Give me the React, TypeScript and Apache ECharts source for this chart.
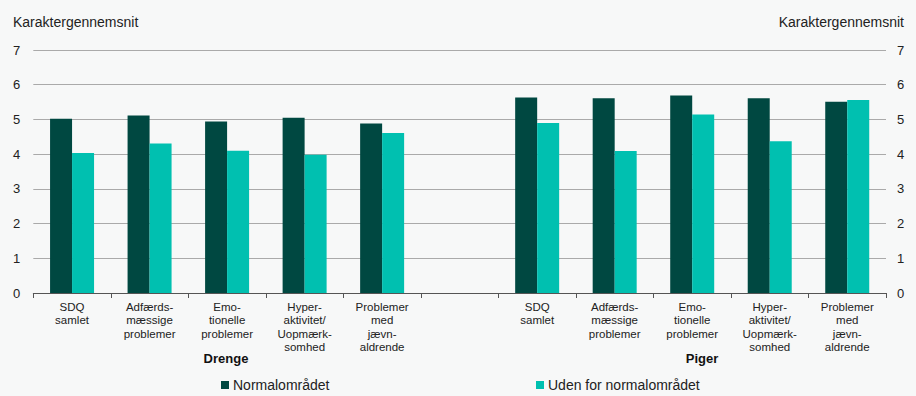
import React, { useEffect, useRef } from "react";
import * as echarts from "echarts";

const categories = [
  "SDQ\nsamlet",
  "Adfærds-\nmæssige\nproblemer",
  "Emo-\ntionelle\nproblemer",
  "Hyper-\naktivitet/\nUopmærk-\nsomhed",
  "Problemer\nmed\njævn-\naldrende",
  "",
  "SDQ\nsamlet",
  "Adfærds-\nmæssige\nproblemer",
  "Emo-\ntionelle\nproblemer",
  "Hyper-\naktivitet/\nUopmærk-\nsomhed",
  "Problemer\nmed\njævn-\naldrende",
];

const normalomraadet = [5.02, 5.11, 4.94, 5.05, 4.88, null, 5.63, 5.61, 5.69, 5.61, 5.51];
const udenForNormalomraadet = [4.03, 4.31, 4.1, 3.98, 4.61, null, 4.9, 4.09, 5.14, 4.37, 5.56];

const yTicks = [0, 7, 1];
const axisName = "Karaktergennemsnit";
const groupLabels = ["Drenge", "Piger"];
const seriesNames = ["Normalområdet", "Uden for normalområdet"];

const FONT = "'Liberation Sans', Arial, Helvetica, sans-serif";
const DARK = "#004841";
const TEAL = "#00c0b0";

export default function App() {
  const ref = useRef<HTMLDivElement>(null);
  useEffect(() => {
    if (!ref.current) return;
    const chart = echarts.init(ref.current, null, { renderer: "svg" });
    const yAxisBase = {
      type: "value",
      min: yTicks[0],
      max: yTicks[1],
      interval: yTicks[2],
      axisLine: { show: false },
      axisTick: { show: false },
      axisLabel: { color: "#222", fontSize: 13, fontFamily: FONT },
    };
    const legendBase = {
      top: 378,
      padding: 0,
      itemWidth: 8,
      itemHeight: 8,
      itemGap: 4,
      icon: "rect",
      textStyle: { fontSize: 14, color: "#222", fontFamily: FONT, padding: [0, 0, 0, -1] },
    };
    chart.setOption({
      animation: false,
      backgroundColor: "#f7f8f8",
      textStyle: { fontFamily: FONT },
      grid: { left: 33.3, right: 30, top: 50, bottom: 103, containLabel: false },
      legend: [
        { ...legendBase, data: [seriesNames[0]], left: 221 },
        { ...legendBase, data: [seriesNames[1]], left: 536 },
      ],
      xAxis: {
        type: "category",
        data: categories,
        axisLine: { lineStyle: { color: "#555", width: 1 } },
        axisTick: { show: true, length: 5, lineStyle: { color: "#555" } },
        axisLabel: {
          interval: 0,
          margin: 7,
          fontSize: 11.5,
          lineHeight: 13.5,
          color: "#222",
          fontFamily: FONT,
        },
      },
      yAxis: [
        {
          ...yAxisBase,
          position: "left",
          axisLabel: { ...yAxisBase.axisLabel, margin: 13 },
          splitLine: { show: true, lineStyle: { color: "#aaaaaa", width: 1 } },
        },
        {
          ...yAxisBase,
          position: "right",
          axisLabel: { ...yAxisBase.axisLabel, margin: 11 },
          splitLine: { show: false },
        },
      ],
      graphic: [
        {
          type: "text",
          left: 13,
          top: 15,
          style: { text: axisName, fontSize: 14, fill: "#222", fontFamily: FONT },
        },
        {
          type: "text",
          right: 12,
          top: 15,
          style: { text: axisName, fontSize: 14, fill: "#222", fontFamily: FONT },
        },
        {
          type: "text",
          x: 226,
          y: 358,
          style: {
            text: groupLabels[0],
            fontSize: 13,
            fontWeight: "bold",
            fill: "#111",
            fontFamily: FONT,
            align: "center",
            verticalAlign: "middle",
          },
        },
        {
          type: "text",
          x: 702,
          y: 358,
          style: {
            text: groupLabels[1],
            fontSize: 13,
            fontWeight: "bold",
            fill: "#111",
            fontFamily: FONT,
            align: "center",
            verticalAlign: "middle",
          },
        },
      ],
      series: [
        {
          name: seriesNames[0],
          type: "bar",
          data: normalomraadet,
          barWidth: 22,
          barGap: "0%",
          itemStyle: { color: DARK },
        },
        {
          name: seriesNames[1],
          type: "bar",
          data: udenForNormalomraadet,
          barWidth: 22,
          barGap: "0%",
          itemStyle: { color: TEAL },
        },
      ],
    });
    return () => chart.dispose();
  }, []);
  return <div ref={ref} style={{ width: 916, height: 396, position: "absolute", left: 0, top: 0 }} />;
}
